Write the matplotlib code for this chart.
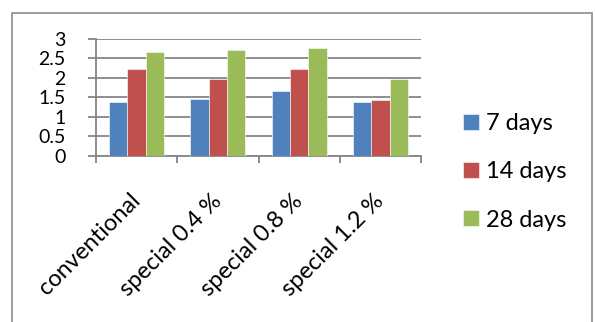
import numpy as np
import matplotlib
matplotlib.use("Agg")
import matplotlib.pyplot as plt
import matplotlib.patches as mpatches

categories = ["conventional", "special 0.4 %", "special 0.8 %", "special 1.2 %"]
series_names = ["7 days", "14 days", "28 days"]
days_7 = [1.37, 1.47, 1.67, 1.37]
days_14 = [2.23, 1.96, 2.23, 1.43]
days_28 = [2.67, 2.73, 2.78, 1.96]
yticks = [0, 0.5, 1, 1.5, 2, 2.5, 3]

COLORS = ["#4F81BD", "#C0504D", "#9BBB59"]
GRID_COLOR = "#868686"

plt.rcParams["font.family"] = ["Lato", "DejaVu Sans"]

fig = plt.figure(figsize=(5.95, 3.22), dpi=100)
ax = fig.add_axes([96 / 595, 1 - 155.7 / 322, (421 - 96) / 595, (155.7 - 39) / 322])

# chart border
fig.patches.append(mpatches.Rectangle((12 / 595, -0.1), 580 / 595, 1.1 - 13 / 322,
                                      transform=fig.transFigure, fill=False,
                                      edgecolor="#8C8C8C", linewidth=1.2))

x = np.arange(len(categories))
width = 0.225
for i, (vals, name) in enumerate(zip([days_7, days_14, days_28], series_names)):
    ax.bar(x + (i - 1) * width, vals, width, color=COLORS[i], label=name,
           edgecolor="white", linewidth=0.4, zorder=3)

ax.set_xlim(-0.5, len(categories) - 0.5)
ax.set_ylim(0, 3)
ax.set_yticks(yticks)
ax.set_yticklabels([f"{v:g}" for v in yticks], fontsize=14)
ax.yaxis.grid(True, color=GRID_COLOR, linewidth=1.3, zorder=0)
ax.set_axisbelow(True)

ax.set_xticks(x)
ax.set_xticklabels(categories, fontsize=17, rotation=45, ha="right",
                   rotation_mode="anchor", va="center")
ax.set_xticks(np.arange(len(categories) + 1) - 0.5, minor=True)
ax.tick_params(axis="x", which="major", length=0, pad=30)
ax.tick_params(axis="x", which="minor", length=5, width=1.3, color=GRID_COLOR, direction="out")
ax.tick_params(axis="y", length=6, width=1.3, color=GRID_COLOR, pad=16)

for s in ["top", "right"]:
    ax.spines[s].set_visible(False)
for s in ["left", "bottom"]:
    ax.spines[s].set_color(GRID_COLOR)
    ax.spines[s].set_linewidth(1.3)

ax.legend(loc="center left", bbox_to_anchor=(442 / 595, 1 - 172 / 322),
          bbox_transform=fig.transFigure, frameon=False, fontsize=17,
          handlelength=0.65, handleheight=0.65, handletextpad=0.3, labelspacing=1.15)

fig.savefig("out.png", dpi=100)
